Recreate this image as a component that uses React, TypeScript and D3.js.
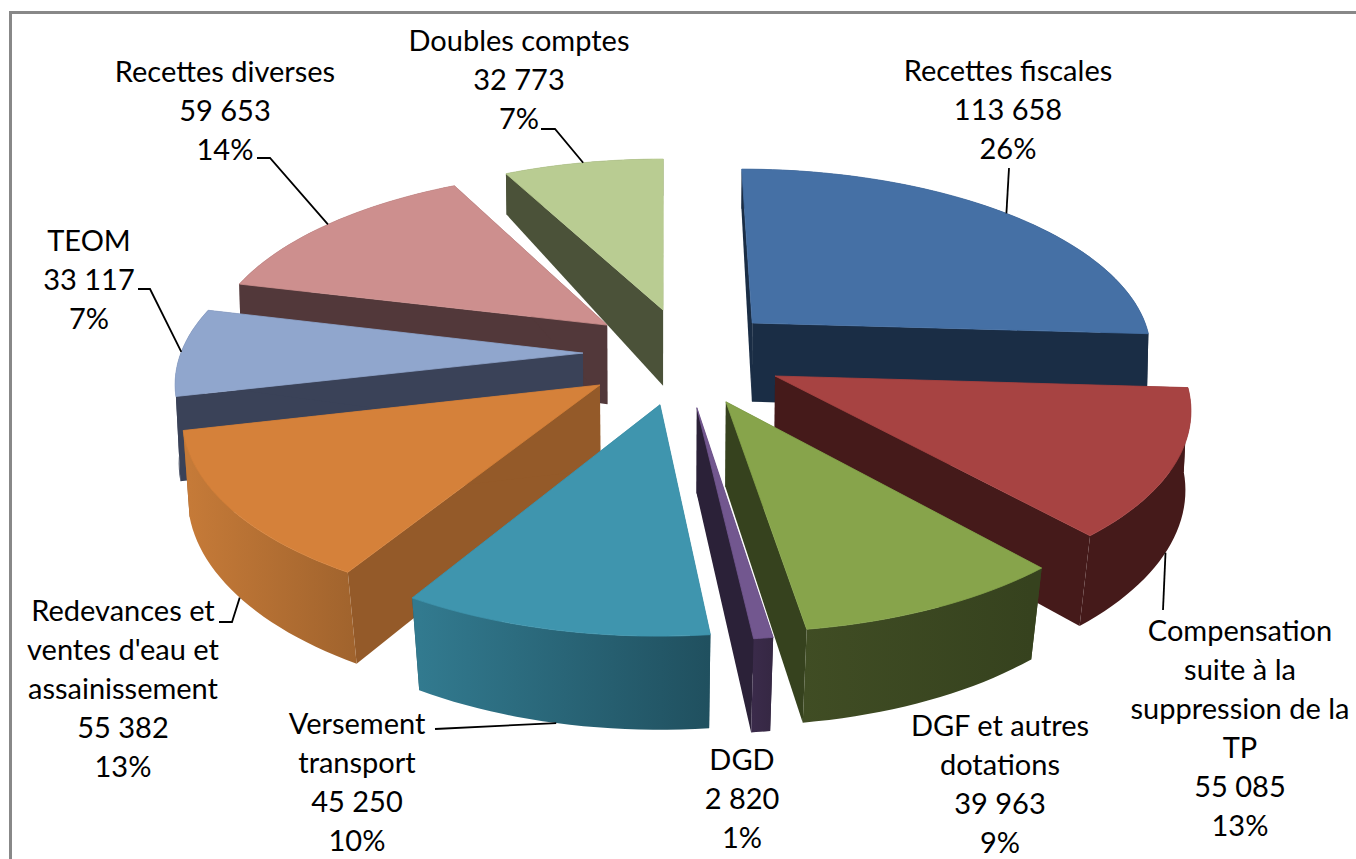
import * as d3 from "d3";

const width = 1356;
const height = 859;

// data, clockwise from 12 o'clock
const names = [
  ["Recettes fiscales"],
  ["Compensation", "suite à la", "suppression de la", "TP"],
  ["DGF et autres", "dotations"],
  ["DGD"],
  ["Versement", "transport"],
  ["Redevances et", "ventes d'eau et", "assainissement"],
  ["TEOM"],
  ["Recettes diverses"],
  ["Doubles comptes"],
];
const values = [113658, 55085, 39963, 2820, 45250, 55382, 33117, 59653, 32773];
const percents = ["26%", "13%", "9%", "1%", "10%", "13%", "7%", "14%", "7%"];

// how far each slice is pulled out on the pie plane, in radii
const explodeU = [0.222, 0.269, 0.146, 0.076, -0.012, -0.158, -0.204, -0.147, -0.005];
const explodeV = [-0.184, 0.107, 0.24, 0.27, 0.255, 0.154, -0.016, -0.172, -0.259];

const topColors = ["#4570a5", "#a74342", "#87a44b", "#72578f", "#3f95ae", "#d5813a", "#90a6cd", "#cd8f8e", "#b9cc92"];
const sideColors = ["#1a2d45", "#451a1a", "#36421e", "#2b2138", "#245362", "#945a29", "#3a4258", "#52383a", "#4b5239"];
const rimFrom = ["#1a2d45", "#451a1a", "#404d24", "#3b2b4b", "#327a8f", "#c57a38", "#3a4258", "#52383a", "#4b5239"];
const rimTo = ["#1a2d45", "#451a1a", "#36421e", "#362844", "#20505f", "#a0632d", "#3a4258", "#52383a", "#4b5239"];

// label block: centre x, first baseline
const labelX = [1008, 1240, 1000, 742, 357, 123, 89, 225, 519];
const labelY = [81, 641, 736, 770, 734, 621, 251, 82, 51];
// leader lines: points on the label side, the last point is computed on the rim
const leaderStart = [
  [[1009, 168]],
  [[1163, 610]],
  [],
  [],
  [[435, 729]],
  [[219, 622], [232, 622]],
  [[138, 289], [150, 289]],
  [[257, 158], [270, 158]],
  [[541, 129], [555, 129]],
];
const leaderOnWall = [0, 1, 0, 0, 1, 1, 0, 0, 0];

const cx = 665;
const cy = 356;
const A = 403;
const B = 184;
const k = 0.14;
const depth = d3.scaleLinear().domain([-1.25, -0.1, 1.3]).range([37, 82, 94]);
const converge = d3.scaleLinear().domain([0, 1]).range([0.004, 0.028]).clamp(true);

const fmt = d3.formatLocale({ decimal: ",", thousands: " ", grouping: [3], currency: ["", ""] }).format(",d");

function project(u: number, v: number, z: number): [number, number] {
  const w = 1 - k * v;
  const x = cx + (A * u) / w;
  const y = cy + (B * v) / w;
  return [x - (x - cx) * converge(v) * z, y + depth(v) * z];
}

const arcs = d3.pie<number>().sort(null)(values);
const line = d3.line();

type Slice = { i: number; start: number; end: number; mid: number };
const slices: Slice[] = arcs.map((a, i) => ({
  i,
  start: a.startAngle,
  end: a.endAngle,
  mid: (a.startAngle + a.endAngle) / 2,
}));

function point(s: Slice, angle: number, r: number, z: number) {
  const u = explodeU[s.i] + r * Math.sin(angle);
  const v = explodeV[s.i] - r * Math.cos(angle);
  return project(u, v, z);
}

function rim(s: Slice, z: number) {
  const n = Math.max(4, Math.ceil((s.end - s.start) / 0.03));
  return d3.range(n + 1).map((j) => point(s, s.start + ((s.end - s.start) * j) / n, 1, z));
}

// painter's order, back slices first
const order = [...slices].sort((a, b) => d3.ascending(-Math.cos(a.mid), -Math.cos(b.mid)));

export default function App() {
  return (
    <svg width={width} height={height} style={{ position: "absolute", left: 0, top: 0, background: "#fff" }}>
      <defs>
        {slices.map((s) => {
          const a = rim(s, 1);
          return (
            <linearGradient
              key={s.i}
              id={`rim${s.i}`}
              gradientUnits="userSpaceOnUse"
              x1={d3.min(a, (p) => p[0])}
              x2={d3.max(a, (p) => p[0])}
              y1={0}
              y2={0}
            >
              <stop offset="0" stopColor={rimFrom[s.i]} />
              <stop offset="1" stopColor={rimTo[s.i]} />
            </linearGradient>
          );
        })}
      </defs>
      <path d={`M10.5 ${height}V12.5H${width}`} fill="none" stroke="#888" strokeWidth={3} />
      {order.map((s) => {
        const i = s.i;
        const top = rim(s, 0);
        const bottom = rim(s, 1);
        const apex0 = point(s, 0, 0, 0);
        const apex1 = point(s, 0, 0, 1);
        return (
          <g key={i}>
            <path d={line([apex0, top[0], bottom[0], apex1])! + "Z"} fill={sideColors[i]} />
            <path d={line([apex0, top[top.length - 1], bottom[bottom.length - 1], apex1])! + "Z"} fill={sideColors[i]} />
            <path d={line([...top, ...[...bottom].reverse()])! + "Z"} fill={`url(#rim${i})`} />
            <path d={line([apex0, ...top])! + "Z"} fill={topColors[i]} stroke={topColors[i]} strokeWidth={0.8} />
          </g>
        );
      })}
      {slices.map((s) => {
        const pts = leaderStart[s.i];
        if (!pts.length) return null;
        const end = point(s, s.mid, 1, leaderOnWall[s.i]);
        return (
          <path
            key={s.i}
            d={line([...(pts as [number, number][]), end])!}
            fill="none"
            stroke="#000"
            strokeWidth={1.8}
          />
        );
      })}
      <g fontFamily="Lato" fontSize={29} fill="#000" textAnchor="middle">
        {names.map((lines, i) => (
          <text key={i} x={labelX[i]} y={labelY[i]}>
            {[...lines, fmt(values[i]), percents[i]].map((t, j) => (
              <tspan key={j} x={labelX[i]} dy={j === 0 ? 0 : 39}>
                {t}
              </tspan>
            ))}
          </text>
        ))}
      </g>
    </svg>
  );
}
